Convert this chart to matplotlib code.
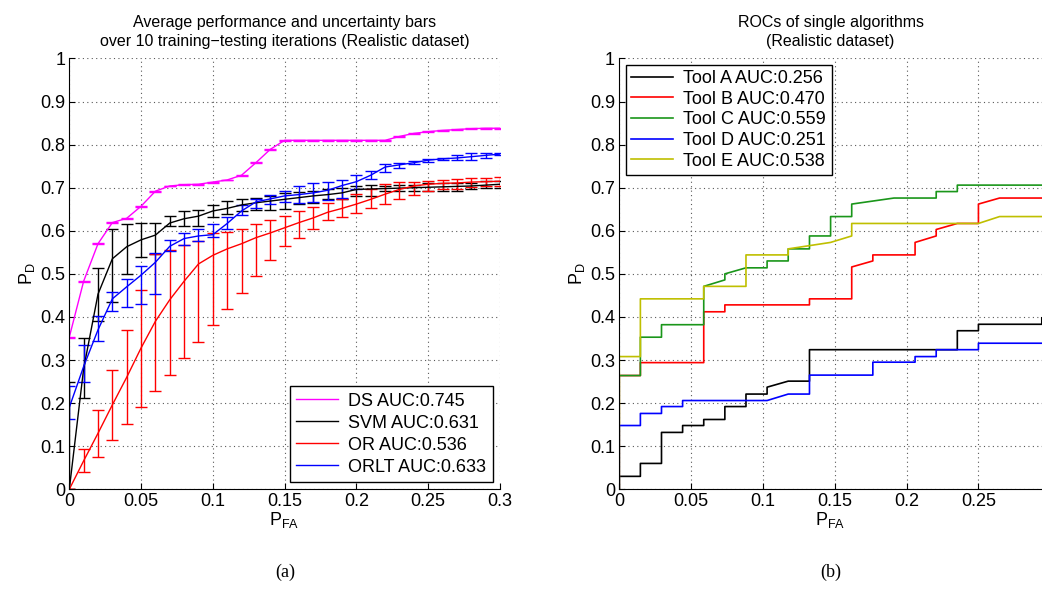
import numpy as np
import matplotlib.pyplot as plt
from matplotlib.ticker import FixedLocator

plt.rcParams['font.family'] = ['Liberation Sans', 'DejaVu Sans']
plt.rcParams['mathtext.fontset'] = 'custom'
plt.rcParams['mathtext.rm'] = 'Liberation Sans'
plt.rcParams['mathtext.it'] = 'Liberation Sans'
plt.rcParams['mathtext.default'] = 'regular'

# ---- (a) average ROC with uncertainty bars, P_FA = 0 .. 0.3 step 0.01
pfa = np.round(np.arange(31) * 0.01, 2)

ds = [0.353, 0.483, 0.570, 0.619, 0.629, 0.657, 0.692, 0.704, 0.707, 0.708,
      0.713, 0.718, 0.729, 0.758, 0.789, 0.810, 0.810, 0.810, 0.810, 0.810,
      0.810, 0.810, 0.810, 0.819, 0.826, 0.830, 0.833, 0.835, 0.837, 0.838, 0.838]

svm = [0.000, 0.280, 0.453, 0.535, 0.563, 0.579, 0.590, 0.618, 0.628, 0.634,
       0.646, 0.652, 0.660, 0.665, 0.669, 0.673, 0.677, 0.681, 0.684, 0.688,
       0.696, 0.697, 0.698, 0.699, 0.700, 0.701, 0.702, 0.703, 0.704, 0.706, 0.708]
svm_lo = [0.000, 0.212, 0.390, 0.434, 0.500, 0.540, 0.547, 0.611, 0.611, 0.611,
          0.632, 0.640, 0.646, 0.648, 0.648, 0.651, 0.663, 0.665, 0.674, 0.674,
          0.680, 0.680, 0.692, 0.692, 0.692, 0.692, 0.692, 0.692, 0.697, 0.699, 0.700]
svm_hi = [0.250, 0.351, 0.513, 0.605, 0.615, 0.617, 0.617, 0.634, 0.647, 0.649,
          0.661, 0.669, 0.674, 0.676, 0.680, 0.688, 0.690, 0.692, 0.697, 0.700,
          0.705, 0.706, 0.705, 0.706, 0.706, 0.711, 0.711, 0.711, 0.711, 0.715, 0.715]

orr = [0.000, 0.066, 0.130, 0.196, 0.260, 0.328, 0.390, 0.440, 0.483, 0.523,
       0.543, 0.558, 0.570, 0.584, 0.595, 0.607, 0.619, 0.630, 0.643, 0.652,
       0.662, 0.673, 0.685, 0.696, 0.704, 0.708, 0.710, 0.711, 0.713, 0.714, 0.715]
orr_lo = [0.000, 0.039, 0.076, 0.115, 0.152, 0.190, 0.227, 0.266, 0.305, 0.342,
          0.381, 0.419, 0.456, 0.494, 0.533, 0.565, 0.584, 0.604, 0.625, 0.633,
          0.642, 0.654, 0.662, 0.673, 0.683, 0.692, 0.696, 0.698, 0.702, 0.703, 0.704]
orr_hi = [0.000, 0.093, 0.184, 0.277, 0.370, 0.463, 0.547, 0.555, 0.568, 0.576,
          0.595, 0.597, 0.605, 0.616, 0.625, 0.635, 0.646, 0.655, 0.664, 0.673,
          0.685, 0.696, 0.708, 0.713, 0.713, 0.715, 0.719, 0.720, 0.722, 0.723, 0.725]

orlt = [0.190, 0.285, 0.370, 0.442, 0.470, 0.497, 0.527, 0.564, 0.582, 0.588,
        0.591, 0.617, 0.646, 0.667, 0.674, 0.681, 0.684, 0.688, 0.694, 0.705,
        0.714, 0.729, 0.748, 0.753, 0.758, 0.764, 0.767, 0.769, 0.772, 0.775, 0.778]
orlt_lo = [0.163, 0.248, 0.345, 0.413, 0.423, 0.431, 0.454, 0.553, 0.566, 0.576,
           0.586, 0.603, 0.636, 0.653, 0.662, 0.667, 0.665, 0.667, 0.671, 0.677,
           0.698, 0.720, 0.736, 0.745, 0.756, 0.760, 0.764, 0.764, 0.764, 0.770, 0.776]
orlt_hi = [0.240, 0.336, 0.403, 0.458, 0.487, 0.518, 0.549, 0.578, 0.595, 0.605,
           0.615, 0.632, 0.660, 0.674, 0.684, 0.692, 0.704, 0.710, 0.714, 0.719,
           0.730, 0.739, 0.754, 0.758, 0.762, 0.767, 0.770, 0.775, 0.780, 0.780, 0.781]

labels_a = ['DS AUC:0.745', 'SVM AUC:0.631', 'OR AUC:0.536', 'ORLT AUC:0.633']

# ---- (b) ROC curves of single tools (vertices)
toolA_x = [0, 0, 0.0147, 0.0147, 0.0294, 0.0294, 0.0441, 0.0441, 0.0588, 0.0588, 0.0735, 0.0735,
           0.0882, 0.0882, 0.1029, 0.1029, 0.1176, 0.1324, 0.1324, 0.2353, 0.2353, 0.25, 0.25,
           0.2941, 0.2941]
toolA_y = [0, 0.030, 0.030, 0.060, 0.060, 0.132, 0.132, 0.148, 0.148, 0.162, 0.162, 0.192,
           0.192, 0.221, 0.221, 0.237, 0.251, 0.251, 0.324, 0.324, 0.368, 0.368, 0.383,
           0.383, 0.398]

toolB_x = [0, 0, 0.0147, 0.0147, 0.0588, 0.0588, 0.0735, 0.0735, 0.1324, 0.1324, 0.1618, 0.1618,
           0.1765, 0.1765, 0.2059, 0.2059, 0.2206, 0.2206, 0.2353, 0.25, 0.25, 0.2647, 0.2941]
toolB_y = [0, 0.264, 0.264, 0.294, 0.294, 0.412, 0.412, 0.428, 0.428, 0.442, 0.442, 0.516,
           0.530, 0.544, 0.544, 0.573, 0.588, 0.603, 0.617, 0.617, 0.662, 0.676, 0.676]

toolC_x = [0, 0, 0.0147, 0.0147, 0.0294, 0.0294, 0.0588, 0.0588, 0.0735, 0.0735, 0.0882, 0.1029,
           0.1029, 0.1176, 0.1176, 0.1324, 0.1324, 0.1471, 0.1471, 0.1618, 0.1618, 0.1912,
           0.2206, 0.2206, 0.2353, 0.2353, 0.2941]
toolC_y = [0, 0.264, 0.264, 0.353, 0.353, 0.382, 0.382, 0.471, 0.486, 0.500, 0.514, 0.514,
           0.530, 0.530, 0.558, 0.558, 0.588, 0.588, 0.633, 0.633, 0.662, 0.676,
           0.676, 0.691, 0.691, 0.706, 0.706]

toolD_x = [0, 0, 0.0147, 0.0147, 0.0294, 0.0294, 0.0441, 0.0441, 0.1029, 0.1176, 0.1324, 0.1324,
           0.1765, 0.1765, 0.2059, 0.2059, 0.2206, 0.2206, 0.25, 0.25, 0.2941]
toolD_y = [0, 0.148, 0.148, 0.176, 0.176, 0.192, 0.192, 0.206, 0.206, 0.221, 0.221, 0.265,
           0.265, 0.295, 0.295, 0.308, 0.308, 0.324, 0.324, 0.339, 0.339]

toolE_x = [0, 0, 0.0147, 0.0147, 0.0588, 0.0588, 0.0882, 0.0882, 0.1176, 0.1176, 0.1471, 0.1618,
           0.1618, 0.25, 0.2647, 0.2941]
toolE_y = [0, 0.308, 0.308, 0.442, 0.442, 0.471, 0.471, 0.544, 0.544, 0.558, 0.573, 0.588,
           0.617, 0.617, 0.633, 0.633]

labels_b = ['Tool A AUC:0.256', 'Tool B AUC:0.470', 'Tool C AUC:0.559',
            'Tool D AUC:0.251', 'Tool E AUC:0.538']

yticks = np.round(np.arange(11) * 0.1, 1)
ytick_labels = ['0', '0.1', '0.2', '0.3', '0.4', '0.5', '0.6', '0.7', '0.8', '0.9', '1']
xticks = [0, 0.05, 0.1, 0.15, 0.2, 0.25, 0.3]
xtick_labels = ['0', '0.05', '0.1', '0.15', '0.2', '0.25', '0.3']

FS = 13


def style_axes(ax, xmax, nx):
    ax.set_xlim(0, xmax)
    ax.set_ylim(0, 1)
    ax.xaxis.set_major_locator(FixedLocator(xticks[:nx]))
    ax.set_xticklabels(xtick_labels[:nx])
    ax.set_yticks(yticks)
    ax.set_yticklabels(ytick_labels)
    ax.spines['top'].set_visible(False)
    ax.spines['right'].set_visible(False)
    ax.tick_params(direction='in', length=4, width=0.8, labelsize=FS, pad=3)
    ax.grid(True, linestyle=(0, (1, 3)), color='0.35', linewidth=0.8)
    ax.set_axisbelow(True)
    ax.set_xlabel('P$_{FA}$', fontsize=FS, labelpad=0)
    ax.set_ylabel('P$_{D}$', fontsize=FS, labelpad=2)


fig = plt.figure(figsize=(10.42, 5.94), dpi=100)
ax1 = fig.add_axes([0.0665, 0.1763, 0.4133, 0.7253])
ax2 = fig.add_axes([0.5943, 0.1763, 0.4055, 0.7253])

handles = []
series = [
    (ds, np.array(ds) - 0.001, np.array(ds) + 0.001, '#ff00ff'),
    (svm, svm_lo, svm_hi, 'black'),
    (orr, orr_lo, orr_hi, '#ff0000'),
    (orlt, orlt_lo, orlt_hi, '#0000ff'),
]
for y, lo, hi, c in series:
    y = np.array(y)
    yerr = [y - np.array(lo), np.array(hi) - y]
    eb = ax1.errorbar(pfa, y, yerr=yerr, color=c, lw=1.0, elinewidth=1.0,
                      capsize=4, capthick=1.0, clip_on=True)
    handles.append(eb[0])

style_axes(ax1, 0.3, 7)
ax1.legend(handles, labels_a, loc='lower right', fontsize=FS, frameon=True, fancybox=False,
           edgecolor='black', framealpha=1, handlelength=2.3, labelspacing=0.28,
           borderaxespad=0.4, borderpad=0.35, handletextpad=0.6)
ax1.legend_.get_frame().set_linewidth(1.0)
ax1.set_title('Average performance and uncertainty bars\n'
              'over 10 training\u2212testing iterations (Realistic dataset)',
              fontsize=11.5, pad=9, linespacing=1.3)

tools = [(toolA_x, toolA_y, 'black'), (toolB_x, toolB_y, '#ff0000'),
         (toolC_x, toolC_y, '#1a961a'), (toolD_x, toolD_y, '#0000ff'),
         (toolE_x, toolE_y, '#bfbf00')]
for (x, y, c), lab in zip(tools, labels_b):
    ax2.plot(x, y, color=c, lw=1.2, label=lab)

style_axes(ax2, 0.2941, 6)
leg = ax2.legend(loc='upper left', fontsize=FS, frameon=True, fancybox=False,
                 edgecolor='black', framealpha=1, handlelength=2.3, labelspacing=0.2,
                 borderaxespad=0.35, borderpad=0.3, handletextpad=0.6)
leg.get_frame().set_linewidth(1.0)
ax2.set_title('ROCs of single algorithms\n(Realistic dataset)', fontsize=11.5, pad=9,
              linespacing=1.3)

fig.text(0.2735, 0.028, '(a)', fontsize=13, family='Liberation Serif', ha='center')
fig.text(0.797, 0.028, '(b)', fontsize=13, family='Liberation Serif', ha='center')

fig.savefig('out.png', dpi=100)
plt.close(fig)
